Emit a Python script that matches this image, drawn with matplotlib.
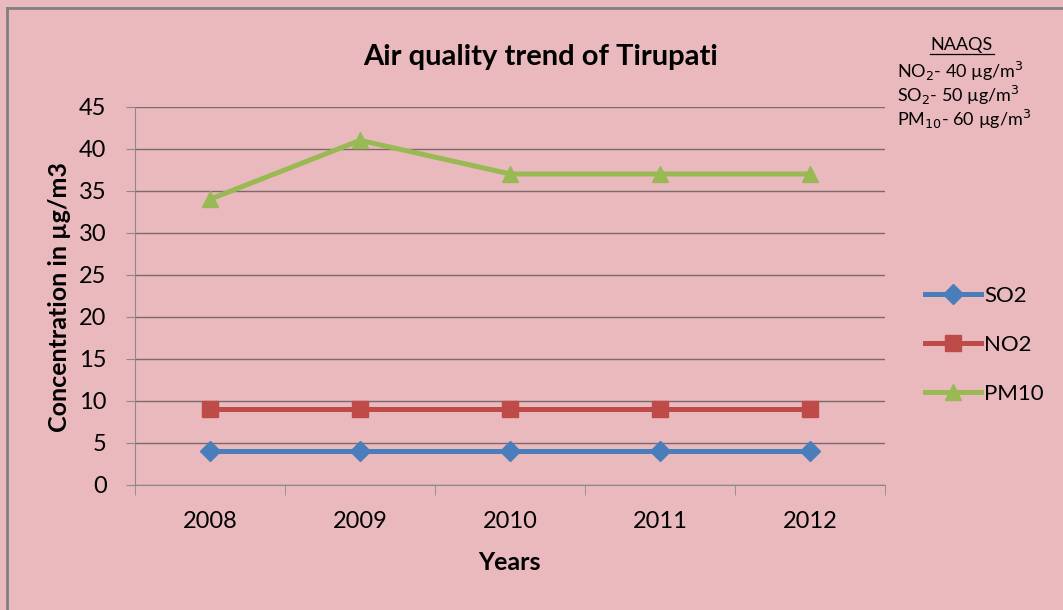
import matplotlib.pyplot as plt
from matplotlib.lines import Line2D

years = ['2008', '2009', '2010', '2011', '2012']
so2 = [4, 4, 4, 4, 4]
no2 = [9, 9, 9, 9, 9]
pm10 = [34, 41, 37, 37, 37]

plt.rcParams['font.family'] = ['Lato', 'DejaVu Sans']

bg = '#eab9be'
W, H = 1063, 610
fig = plt.figure(figsize=(10.63, 6.10), dpi=100, facecolor=bg)
ax = fig.add_axes([0.127, 0.205, 0.706, 0.62])
ax.set_facecolor(bg)

x = range(len(years))
ax.plot(x, so2, color='#4a7ebb', lw=3.6, marker='D', ms=10, label='SO2')
ax.plot(x, no2, color='#be4b48', lw=3.6, marker='s', ms=11, label='NO2')
ax.plot(x, pm10, color='#98b954', lw=3.6, marker='^', ms=12, label='PM10')

ax.set_xlim(-0.5, len(years) - 0.5)
ax.set_ylim(0, 45)
ax.set_yticks(range(0, 46, 5))
ax.set_xticks(list(x))
ax.set_xticklabels(years)
ax.set_xticks([i - 0.5 for i in range(len(years) + 1)], minor=True)
ax.tick_params(axis='x', which='major', length=0, pad=19, labelsize=17)
ax.tick_params(axis='x', which='minor', length=7, color='#8a8a8a', direction='out')
ax.tick_params(axis='y', length=6.5, color='#8a8a8a', labelsize=17, pad=14)
ax.yaxis.grid(True, color='#7a6a6a', lw=1)
ax.set_axisbelow(True)
for s in ['top', 'right']:
    ax.spines[s].set_visible(False)
for s in ['left', 'bottom']:
    ax.spines[s].set_color('#8a8a8a')

fig.text(509 / W, 1 - 563 / H, 'Years', ha='center', va='center',
         fontsize=18, fontweight='bold')
fig.text(60 / W, 1 - 297 / H, 'Concentration in µg/m3', ha='center', va='center',
         rotation=90, fontsize=18, fontweight='bold')
fig.text(541 / W, 1 - 57 / H, 'Air quality trend of Tirupati', ha='center', va='center',
         fontsize=21, fontweight='bold')

ax.legend(loc='center left', bbox_to_anchor=(1.026, 0.37), frameon=False,
          fontsize=16, labelspacing=1.3, handlelength=2.5, handletextpad=0.15)

# NAAQS note
fig.text(962 / W, 1 - 45 / H, 'NAAQS', ha='center', va='center', fontsize=13)
fig.add_artist(Line2D([930 / W, 994 / W], [1 - 54 / H, 1 - 54 / H], color='black', lw=0.9))
fig.text(897 / W, 1 - 71 / H, r'NO$_2$- 40 µg/m$^3$', ha='left', va='center', fontsize=13)
fig.text(897 / W, 1 - 95 / H, r'SO$_2$- 50 µg/m$^3$', ha='left', va='center', fontsize=13)
fig.text(897 / W, 1 - 119 / H, r'PM$_{10}$- 60 µg/m$^3$', ha='left', va='center', fontsize=13)

# frame edges
fig.add_artist(Line2D([0.0066, 0.0066], [0.0, 0.987], color='#808080', lw=2))
fig.add_artist(Line2D([0.0066, 1.0], [0.987, 0.987], color='#808080', lw=2))

fig.savefig('out.png', dpi=100, facecolor=bg)
